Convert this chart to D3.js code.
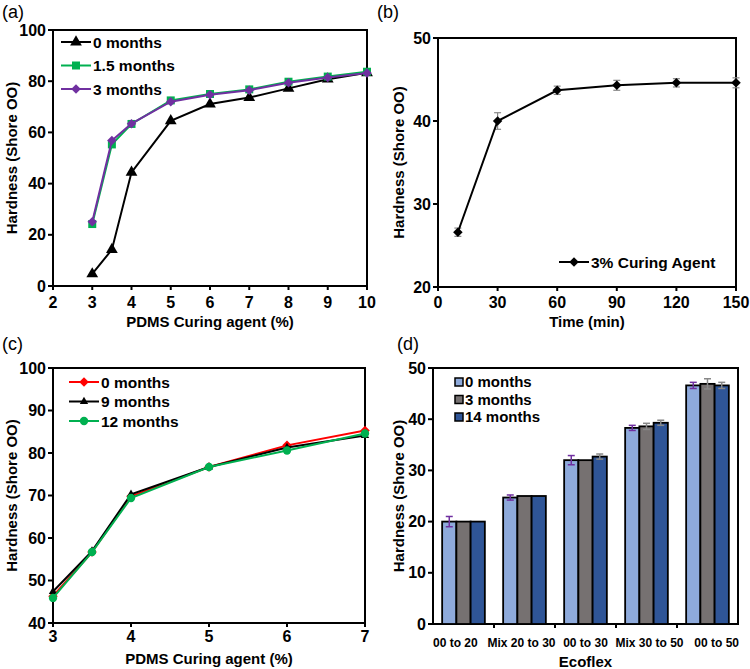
<!DOCTYPE html>
<html>
<head>
<meta charset="utf-8">
<script src="https://cdn.jsdelivr.net/npm/d3@7"></script>
<style>
  body { margin: 0; background: #fff; }
  svg text { font-family: "Liberation Sans", Arial, sans-serif; }
</style>
</head>
<body>
<svg id="chart" width="750" height="669"></svg>
<script>
// (a) hardness vs PDMS curing agent, aging
const aAgent = [3, 3.5, 4, 5, 6, 7, 8, 9, 10];
const a0m = [4.7, 14.2, 44.4, 64.5, 71.1, 73.6, 77.2, 80.8, 83.3];
const a15m = [24.2, 55.3, 63.3, 72.5, 75, 76.8, 79.8, 81.8, 83.7];
const a3m = [25.1, 56.8, 63.4, 72, 74.7, 76.5, 79.4, 81.4, 83.2];
const aXTicks = [2, 3, 4, 5, 6, 7, 8, 9, 10];
const aYTicks = [0, 20, 40, 60, 80, 100];

// (b) hardness vs curing time
const bTime = [10, 30, 60, 90, 120, 150];
const bHard = [26.6, 40, 43.7, 44.3, 44.6, 44.6];
const bErr = [0.5, 1, 0.5, 0.6, 0.5, 0.6];
const bXTicks = [0, 30, 60, 90, 120, 150];
const bYTicks = [20, 30, 40, 50];

// (c) hardness vs PDMS curing agent, longer aging
const cAgent = [3, 3.5, 4, 5, 6, 7];
const c0m = [46.3, 56.7, 69.8, 76.7, 81.8, 85.3];
const c9m = [47.4, 56.9, 70.3, 76.7, 81.3, 84.1];
const c12m = [45.9, 56.7, 69.4, 76.7, 80.6, 84.6];
const cXTicks = [3, 4, 5, 6, 7];
const cYTicks = [40, 50, 60, 70, 80, 90, 100];

// (d) Ecoflex bars
const dCats = ["00 to 20", "Mix 20 to 30", "00 to 30", "Mix 30 to 50", "00 to 50"];
const d0m = [20, 24.7, 32, 38.3, 46.6];
const d3m = [20, 25, 32, 38.6, 46.9];
const d14m = [20, 25, 32.7, 39.3, 46.6];
const d0Err = [1, 0.5, 0.9, 0.5, 0.6];
const d3Err = [0, 0, 0, 0.6, 1];
const d14Err = [0, 0, 0.5, 0.5, 0.6];
const dYTicks = [0, 10, 20, 30, 40, 50];

const svg = d3.select("#chart");
const FONT = "bold";

function frame(g, x, y, xTicks, yTicks, opts) {
  const [x0, x1] = x.range();
  const [y0, y1] = y.range();
  // x ticks
  if (xTicks) {
    g.selectAll(null).data(xTicks).enter().append("line")
      .attr("x1", d => x(d)).attr("x2", d => x(d))
      .attr("y1", y0).attr("y2", y0 + 4)
      .attr("stroke", "#000").attr("stroke-width", 2);
    g.selectAll(null).data(xTicks).enter().append("text")
      .attr("x", d => x(d)).attr("y", y0 + opts.xTickDy)
      .attr("text-anchor", "middle")
      .style("font-size", "16px").style("font-weight", FONT)
      .text(d => d);
  }
  g.selectAll(null).data(yTicks).enter().append("line")
    .attr("x1", x0 - 5).attr("x2", x0)
    .attr("y1", d => y(d)).attr("y2", d => y(d))
    .attr("stroke", "#000").attr("stroke-width", 2);
  g.selectAll(null).data(yTicks).enter().append("text")
    .attr("x", x0 - 7).attr("y", d => y(d) + 5.5)
    .attr("text-anchor", "end")
    .style("font-size", "16px").style("font-weight", FONT)
    .text(d => d);
  g.append("rect")
    .attr("x", x0).attr("y", y1)
    .attr("width", x1 - x0).attr("height", y0 - y1)
    .attr("fill", "none").attr("stroke", "#000").attr("stroke-width", 2);
  g.append("text")
    .attr("x", (x0 + x1) / 2).attr("y", opts.xTitleY)
    .attr("text-anchor", "middle")
    .style("font-size", "15px").style("font-weight", FONT)
    .text(opts.xTitle);
  g.append("text")
    .attr("transform", `translate(${opts.yTitleX},${(y0 + y1) / 2}) rotate(-90)`)
    .attr("text-anchor", "middle")
    .style("font-size", "15px").style("font-weight", FONT)
    .text("Hardness (Shore OO)");
  g.append("text")
    .attr("x", opts.labelX).attr("y", opts.labelY)
    .style("font-size", "18px")
    .text(opts.label);
}

function marker(type, size) {
  const sym = { tri: d3.symbolTriangle, sq: d3.symbolSquare, dia: d3.symbolSquare, circ: d3.symbolCircle }[type];
  return d3.symbol().type(sym).size(size)();
}

function series(g, x, y, xs, ys, color, type, size) {
  const pts = xs.map((v, i) => [v, ys[i]]);
  g.append("path")
    .attr("d", d3.line().x(d => x(d[0])).y(d => y(d[1]))(pts))
    .attr("fill", "none").attr("stroke", color).attr("stroke-width", 2);
  g.selectAll(null).data(pts).enter().append("path")
    .attr("d", marker(type, size))
    .attr("transform", d => `translate(${x(d[0])},${y(d[1])})` + (type === "dia" ? " rotate(45)" : ""))
    .attr("fill", color);
}

function legendLines(g, items, lx, ly, step) {
  items.forEach((it, i) => {
    const yy = ly + i * step;
    g.append("line").attr("x1", lx).attr("x2", lx + 30)
      .attr("y1", yy).attr("y2", yy)
      .attr("stroke", it.color).attr("stroke-width", 2);
    g.append("path").attr("d", marker(it.type, it.size))
      .attr("transform", `translate(${lx + 15},${yy})` + (it.type === "dia" ? " rotate(45)" : ""))
      .attr("fill", it.color);
    g.append("text").attr("x", lx + 32).attr("y", yy + 5.5)
      .style("font-size", "15.5px").style("font-weight", FONT)
      .text(it.name);
  });
}

// ---- panel (a)
{
  const g = svg.append("g");
  const x = d3.scaleLinear().domain([2, 10]).range([53, 367]);
  const y = d3.scaleLinear().domain([0, 100]).range([286, 30]);
  frame(g, x, y, aXTicks, aYTicks, { xTickDy: 22, xTitle: "PDMS Curing agent (%)", xTitleY: 327, yTitleX: 17, label: "(a)", labelX: 2, labelY: 18 });
  series(g, x, y, aAgent, a0m, "#000", "tri", 60);
  series(g, x, y, aAgent, a15m, "#00b050", "sq", 64);
  series(g, x, y, aAgent, a3m, "#7030a0", "dia", 45);
  legendLines(g, [
    { name: "0 months", color: "#000", type: "tri", size: 60 },
    { name: "1.5 months", color: "#00b050", type: "sq", size: 64 },
    { name: "3 months", color: "#7030a0", type: "dia", size: 45 }
  ], 61, 42, 23.5);
}

// ---- panel (b)
{
  const g = svg.append("g");
  const x = d3.scaleLinear().domain([0, 150]).range([438, 736]);
  const y = d3.scaleLinear().domain([20, 50]).range([287, 38]);
  frame(g, x, y, bXTicks, bYTicks, { xTickDy: 21, xTitle: "Time (min)", xTitleY: 327, yTitleX: 404, label: "(b)", labelX: 377, labelY: 18 });
  const eb = g.selectAll(null).data(bTime.map((t, i) => ({ t, v: bHard[i], e: bErr[i] }))).enter();
  eb.append("line").attr("x1", d => x(d.t)).attr("x2", d => x(d.t))
    .attr("y1", d => y(d.v - d.e)).attr("y2", d => y(d.v + d.e))
    .attr("stroke", "#888").attr("stroke-width", 1.2);
  [-1, 1].forEach(s => {
    eb.append("line").attr("x1", d => x(d.t) - 3.5).attr("x2", d => x(d.t) + 3.5)
      .attr("y1", d => y(d.v + s * d.e)).attr("y2", d => y(d.v + s * d.e))
      .attr("stroke", "#888").attr("stroke-width", 1.2);
  });
  series(g, x, y, bTime, bHard, "#000", "dia", 45);
  legendLines(g, [{ name: "3% Curing Agent", color: "#000", type: "dia", size: 45 }], 559, 262, 0);
}

// ---- panel (c)
{
  const g = svg.append("g");
  const x = d3.scaleLinear().domain([3, 7]).range([53, 365]);
  const y = d3.scaleLinear().domain([40, 100]).range([623, 368]);
  frame(g, x, y, cXTicks, cYTicks, { xTickDy: 19, xTitle: "PDMS Curing agent (%)", xTitleY: 664, yTitleX: 17, label: "(c)", labelX: 2, labelY: 350 });
  series(g, x, y, cAgent, c0m, "#ff0000", "dia", 45);
  series(g, x, y, cAgent, c9m, "#000", "tri", 30);
  series(g, x, y, cAgent, c12m, "#00b050", "circ", 55);
  legendLines(g, [
    { name: "0 months", color: "#ff0000", type: "dia", size: 45 },
    { name: "9 months", color: "#000", type: "tri", size: 30 },
    { name: "12 months", color: "#00b050", type: "circ", size: 55 }
  ], 69, 382, 19.5);
}

// ---- panel (d)
{
  const g = svg.append("g");
  const x = d3.scaleBand().domain(dCats).range([433, 738]).paddingInner(0.3).paddingOuter(0.15);
  const y = d3.scaleLinear().domain([0, 50]).range([624, 368]);
  const groups = ["0m", "3m", "14m"];
  const xs = d3.scaleBand().domain(groups).range([0, x.bandwidth()]);
  const vals = { "0m": d0m, "3m": d3m, "14m": d14m };
  const errs = { "0m": d0Err, "3m": d3Err, "14m": d14Err };
  const fills = { "0m": "#8eaadb", "3m": "#767171", "14m": "#2f5597" };
  const errCol = { "0m": "#7030a0", "3m": "#888", "14m": "#888" };
  const names = { "0m": "0 months", "3m": "3 months", "14m": "14 months" };
  frame(g, x, y, null, dYTicks, { xTitle: "Ecoflex", xTitleY: 667, yTitleX: 404, label: "(d)", labelX: 397, labelY: 350 });
  // category boundary ticks
  const step = (738 - 433) / dCats.length;
  g.selectAll(null).data(d3.range(1, dCats.length)).enter().append("line")
    .attr("x1", i => 433 + i * step).attr("x2", i => 433 + i * step)
    .attr("y1", 624).attr("y2", 628)
    .attr("stroke", "#000").attr("stroke-width", 2);
  // labels spread across the axis: first starts at left edge, last ends at right edge
  const last = dCats.length - 1;
  g.selectAll(null).data(dCats).enter().append("text")
    .attr("x", (d, i) => i === 0 ? 433 : i === last ? 739 : x(d) + x.bandwidth() / 2 + (i - 2) * 3)
    .attr("y", 647)
    .attr("text-anchor", (d, i) => i === 0 ? "start" : i === last ? "end" : "middle")
    .style("font-size", "12px").style("font-weight", FONT)
    .text(d => d);
  groups.forEach(k => {
    const data = dCats.map((c, i) => ({ c, v: vals[k][i], e: errs[k][i] }));
    g.selectAll(null).data(data).enter().append("rect")
      .attr("x", d => x(d.c) + xs(k)).attr("y", d => y(d.v))
      .attr("width", xs.bandwidth()).attr("height", d => y(0) - y(d.v))
      .attr("fill", fills[k]).attr("stroke", "#000").attr("stroke-width", 1.8);
    const eb = g.selectAll(null).data(data.filter(d => d.e > 0)).enter();
    const cx = d => x(d.c) + xs(k) + xs.bandwidth() / 2;
    eb.append("line").attr("x1", cx).attr("x2", cx)
      .attr("y1", d => y(d.v - d.e)).attr("y2", d => y(d.v + d.e))
      .attr("stroke", errCol[k]).attr("stroke-width", 1.5);
    [-1, 1].forEach(s => {
      eb.append("line").attr("x1", d => cx(d) - 3.5).attr("x2", d => cx(d) + 3.5)
        .attr("y1", d => y(d.v + s * d.e)).attr("y2", d => y(d.v + s * d.e))
        .attr("stroke", errCol[k]).attr("stroke-width", 1.5);
    });
  });
  groups.forEach((k, i) => {
    const yy = 382 + i * 17.5;
    g.append("rect").attr("x", 455).attr("y", yy - 4).attr("width", 8).attr("height", 8)
      .attr("fill", fills[k]).attr("stroke", "#000").attr("stroke-width", 1.5);
    g.append("text").attr("x", 465).attr("y", yy + 5)
      .style("font-size", "15px").style("font-weight", FONT)
      .text(names[k]);
  });
}
</script>
</body>
</html>
